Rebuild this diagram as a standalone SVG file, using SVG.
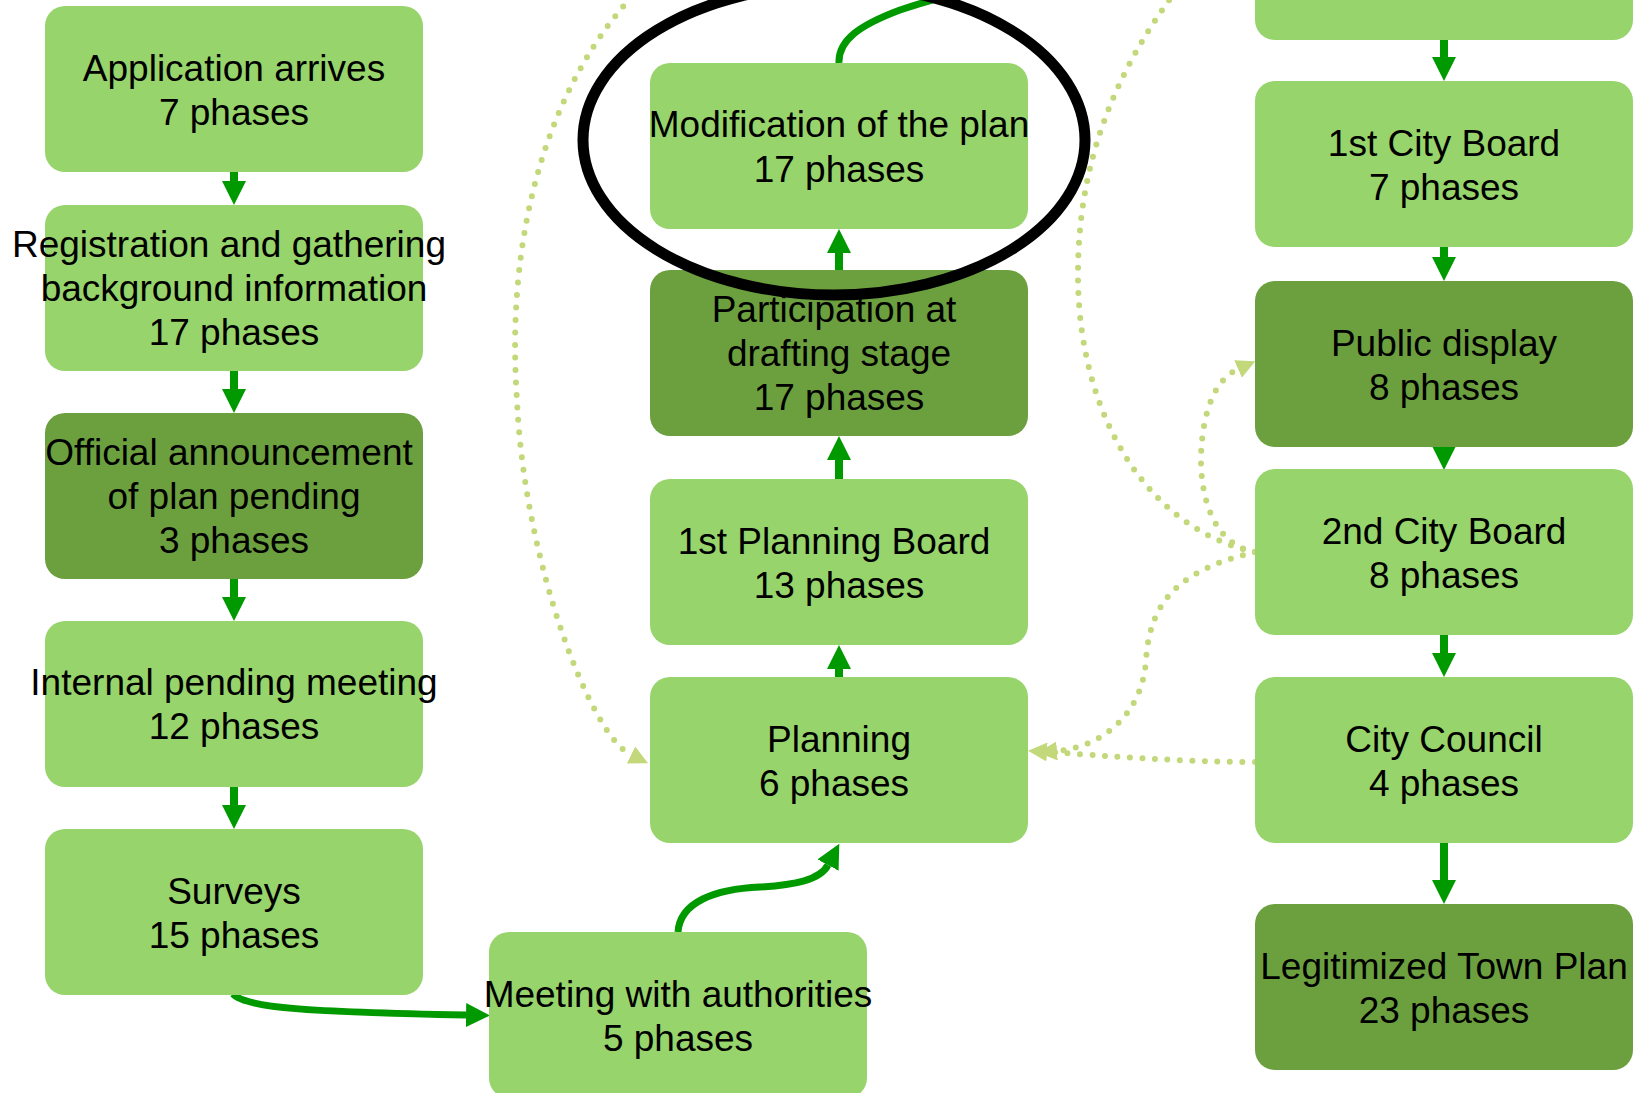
<svg xmlns="http://www.w3.org/2000/svg" width="1650" height="1093" viewBox="0 0 1650 1093">
<style>
.box{fill:#97D46B}
.dark{fill:#6CA03F}
.t{font-family:"Liberation Sans",Arial,sans-serif;font-size:37px;fill:#000;text-anchor:middle}
.arr{stroke:#009900;stroke-width:8;fill:none;marker-end:url(#ah)}
.crv{stroke:#009900;stroke-width:7;fill:none;marker-end:url(#ah)}
.dot{stroke:#C2D87A;stroke-width:6;stroke-linecap:round;stroke-dasharray:0 12.5;fill:none}
.doth{marker-end:url(#dh)}
</style>
<defs>
<marker id="ah" viewBox="0 0 24 24" refX="0" refY="12" markerWidth="24" markerHeight="24" markerUnits="userSpaceOnUse" orient="auto"><path d="M0,0 L24,12 L0,24 z" fill="#009900"/></marker>
<marker id="dh" viewBox="0 0 19 19" refX="0" refY="9.5" markerWidth="19" markerHeight="19" markerUnits="userSpaceOnUse" orient="auto"><path d="M0,0 L19,9.5 L0,19 z" fill="#C2D87A"/></marker>
</defs>
<rect width="1650" height="1093" fill="#fff"/>
<g id="connectors">
<path class="arr" d="M234 172 L234 181"/>
<path class="arr" d="M234 371 L234 389"/>
<path class="arr" d="M234 579 L234 597"/>
<path class="arr" d="M234 787 L234 805"/>
<path class="arr" d="M839 677 L839 669"/>
<path class="arr" d="M839 479 L839 460"/>
<path class="arr" d="M839 270 L839 253"/>
<path class="arr" d="M1444 40 L1444 57"/>
<path class="arr" d="M1444 247 L1444 257"/>
<path class="arr" d="M1444 445 L1444 446"/>
<path class="arr" d="M1444 635 L1444 653"/>
<path class="arr" d="M1444 843 L1444 880"/>
<path class="crv" d="M233 994 C245 1008 310 1012 466 1015"/>
<path class="crv" d="M678 932 C680 902 715 889 760 887 C795 885 820 880 828 865"/>
<path class="crv" stroke-width="6" style="marker-end:none" d="M839 63 C838 40 860 25 900 10 C930 0 960 -8 990 -15"/>
<path class="dot doth" d="M640 -12 C550 80 505 230 517 400 C524 560 590 735 631 755"/>
<path class="dot" d="M1255 552 C1150 530 1080 420 1078 280 C1077 170 1110 80 1175 -8"/>
<path class="dot doth" d="M1255 552 C1215 545 1200 500 1201 455 C1203 405 1218 378 1238 369"/>
<path class="dot doth" d="M1255 552 C1180 570 1150 600 1146 660 C1142 720 1095 748 1057 751"/>
<path class="dot doth" d="M1255 762 C1180 762 1110 756 1047 752"/>
</g>
<g id="n-application"><rect class="box" x="45" y="6" width="378" height="166" rx="20"/><text class="t" x="234" y="81">Application arrives</text><text class="t" x="234" y="125">7 phases</text></g>
<g id="n-registration"><rect class="box" x="45" y="205" width="378" height="166" rx="20"/><text class="t" x="229" y="257">Registration and gathering</text><text class="t" x="234" y="301">background information</text><text class="t" x="234" y="345">17 phases</text></g>
<g id="n-official"><rect class="dark" x="45" y="413" width="378" height="166" rx="20"/><text class="t" x="229" y="465">Official announcement</text><text class="t" x="234" y="509">of plan pending</text><text class="t" x="234" y="553">3 phases</text></g>
<g id="n-internal"><rect class="box" x="45" y="621" width="378" height="166" rx="20"/><text class="t" x="234" y="695">Internal pending meeting</text><text class="t" x="234" y="739">12 phases</text></g>
<g id="n-surveys"><rect class="box" x="45" y="829" width="378" height="166" rx="20"/><text class="t" x="234" y="904">Surveys</text><text class="t" x="234" y="948">15 phases</text></g>
<g id="n-modification"><rect class="box" x="650" y="63" width="378" height="166" rx="20"/><text class="t" x="839" y="137">Modification of the plan</text><text class="t" x="839" y="182">17 phases</text></g>
<g id="n-participation"><rect class="dark" x="650" y="270" width="378" height="166" rx="20"/><text class="t" x="834" y="322">Participation at</text><text class="t" x="839" y="366">drafting stage</text><text class="t" x="839" y="410">17 phases</text></g>
<g id="n-planningboard1"><rect class="box" x="650" y="479" width="378" height="166" rx="20"/><text class="t" x="834" y="554">1st Planning Board</text><text class="t" x="839" y="598">13 phases</text></g>
<g id="n-planning"><rect class="box" x="650" y="677" width="378" height="166" rx="20"/><text class="t" x="839" y="752">Planning</text><text class="t" x="834" y="796">6 phases</text></g>
<g id="n-meeting"><rect class="box" x="489" y="932" width="378" height="166" rx="20"/><text class="t" x="678" y="1007">Meeting with authorities</text><text class="t" x="678" y="1051">5 phases</text></g>
<g id="n-top"><rect class="box" x="1255" y="-127" width="378" height="167" rx="20"/></g>
<g id="n-cityboard1"><rect class="box" x="1255" y="81" width="378" height="166" rx="20"/><text class="t" x="1444" y="156">1st City Board</text><text class="t" x="1444" y="200">7 phases</text></g>
<g id="n-publicdisplay"><rect class="dark" x="1255" y="281" width="378" height="166" rx="20"/><text class="t" x="1444" y="356">Public display</text><text class="t" x="1444" y="400">8 phases</text></g>
<g id="n-cityboard2"><rect class="box" x="1255" y="469" width="378" height="166" rx="20"/><text class="t" x="1444" y="544">2nd City Board</text><text class="t" x="1444" y="588">8 phases</text></g>
<g id="n-citycouncil"><rect class="box" x="1255" y="677" width="378" height="166" rx="20"/><text class="t" x="1444" y="752">City Council</text><text class="t" x="1444" y="796">4 phases</text></g>
<g id="n-legitimized"><rect class="dark" x="1255" y="904" width="378" height="166" rx="20"/><text class="t" x="1444" y="979">Legitimized Town Plan</text><text class="t" x="1444" y="1023">23 phases</text></g>
<ellipse id="highlight" cx="834" cy="140" rx="251" ry="155" fill="none" stroke="#000" stroke-width="11"/>
</svg>
